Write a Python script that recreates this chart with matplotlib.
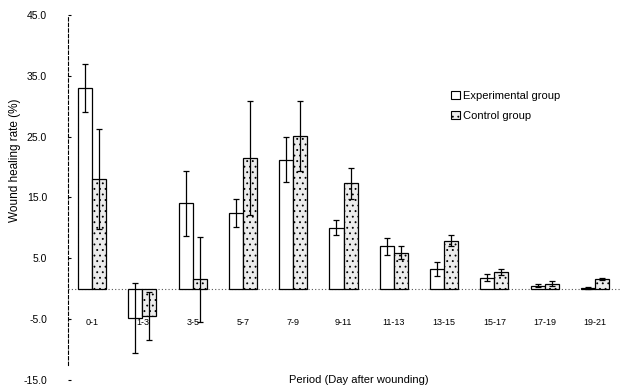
import numpy as np
import matplotlib
matplotlib.use('Agg')
import matplotlib.pyplot as plt
from matplotlib.patches import Patch

periods = ['0-1', '1-3', '3-5', '5-7', '7-9', '9-11', '11-13', '13-15', '15-17', '17-19', '19-21']
exp_mean = [33.0, -4.8, 14.0, 12.5, 21.2, 10.0, 7.0, 3.2, 1.8, 0.5, 0.1]
exp_err = [3.9, 5.8, 5.3, 2.3, 3.7, 1.2, 1.4, 1.1, 0.6, 0.2, 0.1]
ctrl_mean = [18.0, -4.5, 1.5, 21.5, 25.1, 17.3, 5.9, 7.9, 2.7, 0.8, 1.6]
ctrl_err = [8.2, 4.0, 7.0, 9.4, 5.7, 2.5, 1.1, 0.9, 0.5, 0.4, 0.2]
yticks = [45.0, 35.0, 25.0, 15.0, 5.0, -5.0, -15.0]

plt.rcParams['font.family'] = ['Liberation Sans', 'DejaVu Sans']
plt.rcParams['hatch.color'] = '#a8a8a8'
plt.rcParams['hatch.linewidth'] = 0.6

def main():
    fig = plt.figure(figsize=(6.21, 3.92), dpi=100)
    ax = fig.add_axes([0.1095, 0.031, 0.889, 0.931])

    x = np.arange(len(periods))
    w = 0.28
    ekw = dict(elinewidth=0.9, capsize=2.5, capthick=0.9, ecolor='black')
    ax.bar(x - w / 2, exp_mean, w, yerr=exp_err, color='white',
           edgecolor='black', linewidth=0.9, error_kw=ekw, zorder=2)
    ax.bar(x + w / 2, ctrl_mean, w, yerr=ctrl_err, color='#ececec',
           edgecolor='black', linewidth=0.9, hatch='...', error_kw=ekw, zorder=2)

    ax.axhline(0, color='#555555', lw=0.8, ls=(0, (1, 2)), zorder=1)

    for i, p in enumerate(periods):
        ax.text(x[i], -5.6, p, ha='center', va='center', fontsize=6.5)

    ax.set_xlim(-0.48, 10.5)
    ax.set_ylim(-15, 45)
    ax.set_yticks(yticks)
    ax.set_yticklabels(['%.1f' % v for v in yticks], fontsize=7.5)
    ax.tick_params(axis='y', direction='in', length=2, pad=15)
    ax.set_xticks([])
    for s in ['top', 'right', 'bottom']:
        ax.spines[s].set_visible(False)
    ax.spines['left'].set_linestyle((0, (3, 2)))
    ax.spines['left'].set_linewidth(0.8)
    ax.spines['left'].set_bounds(-12.5, 45)

    fig.text(0.024, 0.59, 'Wound healing rate (%)', rotation=90,
             ha='center', va='center', fontsize=8.5)
    fig.text(0.577, 0.03, 'Period (Day after wounding)', ha='center',
             va='center', fontsize=8)

    handles = [Patch(facecolor='white', edgecolor='black', lw=0.8),
               Patch(facecolor='#ececec', edgecolor='black', lw=0.8, hatch='...')]
    ax.legend(handles, ['Experimental group', 'Control group'],
              loc='upper left', bbox_to_anchor=(0.675, 0.82), frameon=False,
              fontsize=8, handlelength=0.8, handleheight=0.8,
              handletextpad=0.3, labelspacing=0.9)

    fig.savefig('out.png', dpi=100)

if __name__ == '__main__':
    main()
